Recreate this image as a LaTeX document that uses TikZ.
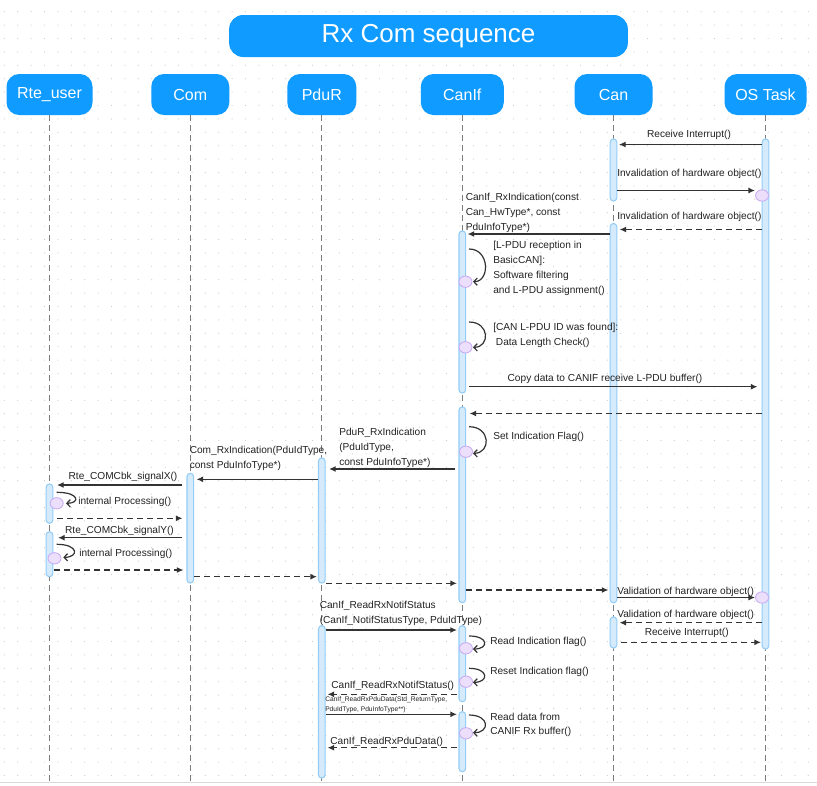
\documentclass[tikz,border=0pt]{standalone}
\usepackage{fontspec}
\setmainfont{Liberation Sans}
\usetikzlibrary{arrows.meta,shapes.geometric}
\definecolor{hdr}{HTML}{0F9BFF}
\definecolor{barf}{HTML}{D5EBFC}
\definecolor{bard}{HTML}{93CDF8}
\definecolor{purf}{HTML}{ECDFFC}
\definecolor{purd}{HTML}{C7A8F2}
\definecolor{ln}{HTML}{333333}
\definecolor{life}{HTML}{7C7C7C}
\definecolor{dotc}{HTML}{CCCCCC}
\definecolor{txt}{HTML}{222222}
\begin{document}
\begin{tikzpicture}[x=0.75pt,y=-0.75pt,
  part/.style={fill=hdr,rounded corners=9.5pt,minimum height=30.75pt,text=white,font=\fontsize{12}{14}\selectfont,inner sep=0pt},
  titlebox/.style={fill=hdr,rounded corners=10.5pt,minimum height=31.5pt,minimum width=299pt,text=white,font=\fontsize{19.5}{22}\selectfont,inner sep=0pt},
  lifeln/.style={draw=life,line width=0.8pt,dash pattern=on 4.5pt off 3pt},
  actbar/.style={draw=bard,fill=barf,line width=0.8pt,rounded corners=2.4pt},
  purp/.style={ellipse,draw=purd,fill=purf,line width=0.6pt,minimum width=9.75pt,minimum height=8.5pt,inner sep=0pt},
  msg/.style={draw=ln,line width=1pt,-{Latex[length=5pt,width=4.5pt]}},
  rmsg/.style={msg,dash pattern=on 4.5pt off 3pt},
  selfmsg/.style={draw=ln,line width=0.9pt,-{Straight Barb[length=2.6pt,width=5.5pt]}},
  lbl/.style={inner sep=0pt,text=txt,font=\fontsize{7.6}{11.2}\selectfont,align=left},
  tinylbl/.style={inner sep=0pt,text=txt,font=\fontsize{5}{7.5}\selectfont,align=left}
]
\useasboundingbox (0,0) rectangle (817,785);
\fill[white] (0,0) rectangle (817,785);
% dotted grid
\foreach \i in {0,...,60}{
  \foreach \j in {0,...,57}{
    \fill[dotc] (4.3+\i*13.4,11.7+\j*13.4) circle[radius=0.45pt];
  }
}
\draw[black!15,line width=0.8pt] (0,782.5) -- (817,782.5);

% header
\node[titlebox] (title) at (428.5,36) {Rx Com sequence};
\node[part,minimum width=64.5pt] (rte) at (49.5,94.5) {Rte\_user};
\node[part,minimum width=58.5pt] (com) at (190.3,94.5) {Com};
\node[part,minimum width=51.75pt] (pdur) at (321.8,94.5) {PduR};
\node[part,minimum width=62.25pt] (canif) at (462.3,94.5) {CanIf};
\node[part,minimum width=58.5pt] (can) at (613.5,94.5) {Can};
\node[part,minimum width=61.5pt] (os) at (765.5,94.5) {OS Task};

% lifelines
\coordinate (rteE) at (49.5,785);
\coordinate (comE) at (190.3,785);
\coordinate (pdurE) at (321.8,785);
\coordinate (canifE) at (462.3,785);
\coordinate (canE) at (613.5,785);
\coordinate (osE) at (765.5,785);
\draw[lifeln] (rte.south) -- (rteE);
\draw[lifeln] (com.south) -- (comE);
\draw[lifeln] (pdur.south) -- (pdurE);
\draw[lifeln] (canif.south) -- (canifE);
\draw[lifeln] (can.south) -- (canE);
\draw[lifeln] (os.south) -- (osE);

% activation bars
\draw[actbar] (46.2,484) rectangle (52.8,523.3);
\draw[actbar] (46.2,531.7) rectangle (52.8,576.7);
\draw[actbar] (187,473.3) rectangle (193.6,583);
\draw[actbar] (318.5,458) rectangle (325.1,583);
\draw[actbar] (318.5,625.7) rectangle (325.1,778);
\draw[actbar] (459,231) rectangle (465.6,393);
\draw[actbar] (459,407) rectangle (465.6,602.7);
\draw[actbar] (459,625.7) rectangle (465.6,701.7);
\draw[actbar] (459,711.7) rectangle (465.6,771.7);
\draw[actbar] (610.2,139) rectangle (616.8,201);
\draw[actbar] (610.2,223.5) rectangle (616.8,602.8);
\draw[actbar] (610.2,617) rectangle (616.8,648);
\draw[actbar] (762.2,139) rectangle (768.8,649);

% self-call markers
\node[purp] (p1) at (762,195.5) {};
\node[purp] (p2) at (465.5,281.7) {};
\node[purp] (p3) at (465.5,347.3) {};
\node[purp] (p4) at (466,451.7) {};
\node[purp] (p5) at (56.7,503.3) {};
\node[purp] (p6) at (54.5,558.3) {};
\node[purp] (p7) at (762,597.5) {};
\node[purp] (p8) at (466,648.3) {};
\node[purp] (p9) at (466,681.7) {};
\node[purp] (p10) at (466,733.3) {};

% messages
\draw[msg] (762,144.5) coordinate (m1a) -- (619,144.5) coordinate (m1b);
\node[lbl] (l1) at (689,134.5) {Receive Interrupt()};
\draw[msg] (617,190.5) coordinate (m2a) -- (p1.west |- m2a);
\node[lbl,anchor=west] (l2) at (617,174) {Invalidation of hardware object()};
\draw[rmsg] (762,229.5) coordinate (m3a) -- (619.5,229.5) coordinate (m3b);
\node[lbl,anchor=west] (l3) at (617,216.5) {Invalidation of hardware object()};
\draw[msg] (610,234) coordinate (m4a) -- (467.5,234) coordinate (m4b);
\node[lbl,anchor=west] (l4) at (465.5,212.5) {CanIf\_RxIndication(const\\Can\_HwType*, const\\PduInfoType*)};
\draw[selfmsg] (469,249) coordinate (s1a) .. controls (490,249) and (490,281.7) .. (473,281.7) coordinate (s1b);
\node[lbl,anchor=west] (l5) at (493,268.5) {[L-PDU reception in\\BasicCAN]:\\Software filtering\\and L-PDU assignment()};
\draw[selfmsg] (469,322) coordinate (s2a) .. controls (490,322) and (490,347.3) .. (473,347.3) coordinate (s2b);
\node[lbl,anchor=west] (l6) at (493,335) {[CAN L-PDU ID was found]:\\\hspace*{2pt}Data Length Check()};
\draw[msg] (469,386.7) coordinate (m7a) -- (757.5,386.7) coordinate (m7b);
\node[lbl] (l7) at (605,378.5) {Copy data to CANIF receive L-PDU buffer()};
\draw[rmsg] (762,413.5) coordinate (m8a) -- (469.5,413.5) coordinate (m8b);
\draw[selfmsg] (469,426.7) coordinate (s3a) .. controls (491,426.7) and (491,453.3) .. (473,453.3) coordinate (s3b);
\node[lbl,anchor=west] (l9) at (493,437.3) {Set Indication Flag()};
\draw[msg] (455,469) coordinate (m10a) -- (329,469) coordinate (m10b);
\node[lbl,anchor=west] (l10) at (339,447.5) {PduR\_RxIndication\\(PduIdType,\\const PduInfoType*)};
\draw[msg] (318,479.3) coordinate (m11a) -- (196.5,479.3) coordinate (m11b);
\node[lbl,anchor=west] (l11) at (189.5,458.7) {Com\_RxIndication(PduIdType,\\const PduInfoType*)};
\draw[msg] (182,485) coordinate (m12a) -- (57,485) coordinate (m12b);
\node[lbl] (l12) at (123,476.5) {Rte\_COMCbk\_signalX()};
\draw[selfmsg] (56.7,492.3) coordinate (s4a) .. controls (80,492.3) and (80,503.3) .. (66,503.3) coordinate (s4b);
\node[lbl,anchor=west] (l13) at (78,502.3) {internal Processing()};
\draw[rmsg] (57,518.3) coordinate (m14a) -- (182.5,518.3) coordinate (m14b);
\draw[msg] (182,537.7) coordinate (m15a) -- (58,537.7) coordinate (m15b);
\node[lbl] (l15) at (119.5,531) {Rte\_COMCbk\_signalY()};
\draw[selfmsg] (56.7,544.3) coordinate (s5a) .. controls (79,544.3) and (79,557.3) .. (63.3,557.3) coordinate (s5b);
\node[lbl,anchor=west] (l16) at (79,554.3) {internal Processing()};
\draw[rmsg] (54,570) coordinate (m17a) -- (183.5,570) coordinate (m17b);
\draw[rmsg] (194,576.7) coordinate (m18a) -- (317,576.7) coordinate (m18b);
\draw[rmsg] (326,583.3) coordinate (m19a) -- (457,583.3) coordinate (m19b);
\draw[rmsg] (466,590) coordinate (m20a) -- (608.5,590) coordinate (m20b);
\draw[msg] (617,597.5) coordinate (m21a) -- (p7.west |- m21a);
\node[lbl,anchor=west] (l21) at (617,592) {Validation of hardware object()};
\draw[rmsg] (762,622.7) coordinate (m22a) -- (619.5,622.7) coordinate (m22b);
\node[lbl,anchor=west] (l22) at (617,614.5) {Validation of hardware object()};
\draw[rmsg] (621,642.3) coordinate (m23a) -- (761,642.3) coordinate (m23b);
\node[lbl] (l23) at (686.7,632.8) {Receive Interrupt()};
\draw[msg] (326,630) coordinate (m24a) -- (457,630) coordinate (m24b);
\node[lbl,anchor=west] (l24) at (319.5,613.8) {CanIf\_ReadRxNotifStatus\\(CanIf\_NotifStatusType, PduIdType)};
\draw[selfmsg] (469,636) coordinate (s6a) .. controls (489,636) and (489,649) .. (473,649) coordinate (s6b);
\node[lbl,anchor=west] (l25) at (490,642.3) {Read Indication flag()};
\draw[selfmsg] (469,668.3) coordinate (s7a) .. controls (489,668.3) and (489,682.3) .. (473,682.3) coordinate (s7b);
\node[lbl,anchor=west] (l26) at (490,672.3) {Reset Indication flag()};
\draw[rmsg] (457,694.3) coordinate (m27a) -- (327.5,694.3) coordinate (m27b);
\node[lbl] (l27) at (392.7,686) {CanIf\_ReadRxNotifStatus()};
\draw[msg] (326,714.3) coordinate (m28a) -- (457,714.3) coordinate (m28b);
\node[tinylbl,anchor=west] (l28) at (325,705) {CanIf\_ReadRxPduData(Std\_ReturnType,\\PduIdType, PduInfoType**)};
\draw[selfmsg] (469,715) coordinate (s8a) .. controls (490,715) and (490,732.7) .. (473,732.7) coordinate (s8b);
\node[lbl,anchor=west,font=\fontsize{7.6}{10.5}\selectfont] (l29) at (490,725.3) {Read data from\\CANIF Rx buffer()};
\draw[rmsg] (457,747.7) coordinate (m30a) -- (327.5,747.7) coordinate (m30b);
\node[lbl] (l30) at (386.7,741.7) {CanIf\_ReadRxPduData()};
\end{tikzpicture}
\end{document}
